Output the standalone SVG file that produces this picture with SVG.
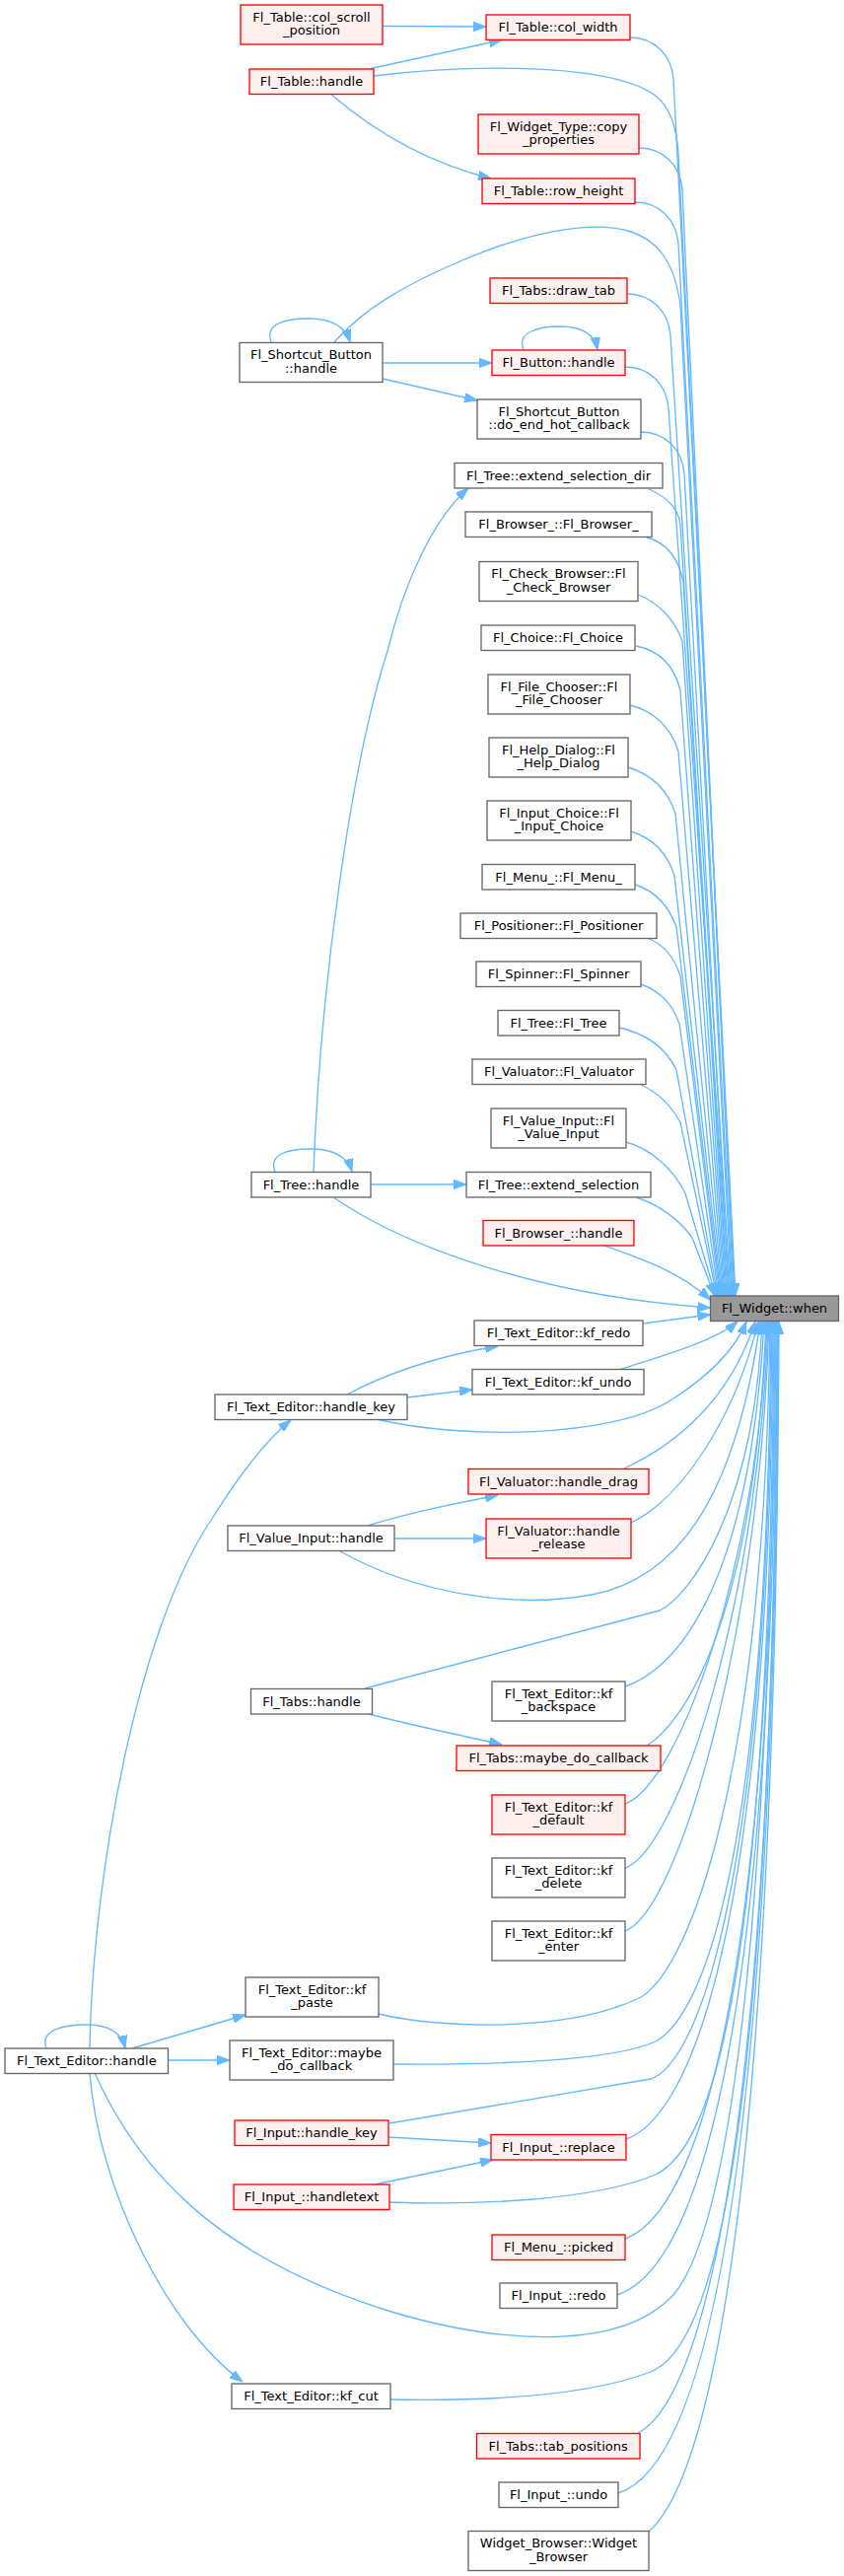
<svg xmlns="http://www.w3.org/2000/svg" width="856" height="2612" viewBox="0 0 856 2612">
<style>
text{font-family:"DejaVu Sans","Liberation Sans",sans-serif;font-size:13px;fill:#000;text-anchor:middle}
.r rect{fill:#fff0f0;stroke:#ff0000;stroke-width:1.33}
.g rect{fill:#ffffff;stroke:#666666;stroke-width:1.33}
.w rect{fill:#999999;stroke:#666666;stroke-width:1.33}
#edges path{fill:none;stroke:#63b8ff;stroke-width:1.33;marker-end:url(#a)}
</style>
<defs>
<marker id="a" viewBox="0 0 13 9.4" refX="13" refY="4.7" markerWidth="13" markerHeight="9.4" markerUnits="userSpaceOnUse" orient="auto">
<path d="M0,0 L13,4.7 L0,9.4 z" fill="#63b8ff" stroke="#63b8ff" stroke-width="1"/>
</marker>
</defs>
<rect x="0" y="0" width="856" height="2612" fill="#ffffff"/>
<g id="edges">
<path d="M388,26.5 L493,27"/>
<path d="M376,69.5 L509,40.5"/>
<path d="M335,95 C370,125 425,163 498,181"/>
<path d="M275,347 C268,328 290,323 313,323 C335,323 350,330 355,347"/>
<path d="M388,368 L499,368"/>
<path d="M388,384 L484,406"/>
<path d="M531,355 C524,337 545,331 568,331 C590,331 603,338 606,355"/>
<path d="M279,1188 C272,1170 292,1165 315,1165 C338,1165 352,1172 357,1188"/>
<path d="M376,1201 L473,1201"/>
<path d="M318,1188 C325,1000 355,780 393,660 C410,590 440,525 475,495"/>
<path d="M352,1414 C385,1396 440,1375 505,1365"/>
<path d="M413,1417 L479,1409"/>
<path d="M91,2077 C94,1900 140,1650 215,1540 C240,1500 270,1460 295,1440"/>
<path d="M373,1547 C410,1535 460,1525 505,1516"/>
<path d="M400,1560 L493,1560"/>
<path d="M374,1738 C420,1750 470,1760 509,1769"/>
<path d="M134,2077 L249,2043"/>
<path d="M170.5,2089 L233,2089"/>
<path d="M47,2077 C40,2058 65,2053 88,2053 C110,2053 123,2060 127,2077"/>
<path d="M91,2102 C100,2220 170,2360 246,2415"/>
<path d="M394,2167 L498,2173"/>
<path d="M380,2215 L500,2190"/>
<path d="M639,38 C664,38 681,56 683,80 L746,1314"/>
<path d="M379,77 C470,66 620,62 666,98 C678,108 686,125 688,155 L745,1314"/>
<path d="M648,150 C673,150 690,168 692,192 L744,1314"/>
<path d="M644,205 C669,205 686,223 688,247 L743,1314"/>
<path d="M339,347 C370,312 410,290 455,270 C530,236 600,222 640,235 C670,245 685,270 690,310 L742,1314"/>
<path d="M636,298 C661,298 678,316 680,340 L741,1314"/>
<path d="M634,372 C659,372 676,390 678,414 L740,1314"/>
<path d="M650,438 C675,438 692,456 694,480 L739,1314"/>
<path d="M658,496 C672,502 688,512 690,532 L738,1314"/>
<path d="M656,545 C675,550 688,565 693,590 L737,1314"/>
<path d="M647,603 C665,610 683,625 692,650 L736,1314"/>
<path d="M645,655 C670,660 684,675 690,700 L735,1314"/>
<path d="M639,715 C660,720 680,735 688,762 L734,1314"/>
<path d="M637,778 C660,785 677,800 685,825 L733,1314"/>
<path d="M640,843 C662,850 677,865 684,888 L732,1314"/>
<path d="M644,897 C663,903 678,918 686,940 L731,1314"/>
<path d="M656,951 C672,957 684,970 690,990 L730,1314"/>
<path d="M650,998 C668,1004 682,1018 689,1038 L729,1314"/>
<path d="M628,1042 C655,1048 675,1062 686,1085 L728,1314"/>
<path d="M650,1100 C668,1108 680,1120 690,1138 L727,1314"/>
<path d="M635,1158 C660,1165 683,1185 695,1210 L726,1314"/>
<path d="M645,1214 C670,1222 690,1238 702,1255 L725,1314"/>
<path d="M613,1263 C650,1276 690,1290 720.5,1318"/>
<path d="M338,1214 C420,1270 560,1315 720.5,1326"/>
<path d="M652,1342 L720.5,1333"/>
<path d="M628,1389 C670,1375 725,1360 748,1340"/>
<path d="M382,1439 C470,1460 620,1458 680,1420 C715,1398 745,1370 757,1340"/>
<path d="M633,1489 C685,1465 740,1420 766,1340"/>
<path d="M640,1544 C690,1520 745,1440 769,1340"/>
<path d="M345,1573 C420,1615 520,1632 600,1617 C680,1602 745,1530 771,1340"/>
<path d="M370,1712 L669,1633 C700,1618 765,1530 773,1340"/>
<path d="M634,1710 C680,1695 760,1620 775,1340"/>
<path d="M656,1770 C690,1750 765,1650 777,1340"/>
<path d="M634,1829 C689,1809 769,1585 778,1340"/>
<path d="M634,1894 C689,1874 770,1617 779,1340"/>
<path d="M634,1958 C689,1938 771,1650 780,1340"/>
<path d="M384,2042 C450,2058 580,2060 650,2025 C700,1995 775,1800 781,1340"/>
<path d="M399,2093 C500,2094 620,2090 665,2070 C710,2045 778,1900 782,1340"/>
<path d="M395,2153 L660,2108 C700,2095 778,1950 783,1340"/>
<path d="M635,2169 C690,2150 780,2000 784,1340"/>
<path d="M395,2233 C480,2236 600,2232 665,2205 C715,2180 780,2050 785,1340"/>
<path d="M96,2102 C140,2200 220,2290 400,2345 C520,2380 630,2380 680,2330 C720,2290 780,2100 786,1340"/>
<path d="M634,2270 C690,2250 782,2100 787,1340"/>
<path d="M626,2327 C690,2305 783,2150 788,1340"/>
<path d="M396,2433 C500,2435 600,2428 660,2405 C720,2380 783,2200 788.5,1340"/>
<path d="M647,2467 C700,2440 784,2250 789,1340"/>
<path d="M627,2528 C700,2505 785,2300 789.5,1340"/>
<path d="M658,2567 C700,2530 786,2350 790,1340"/>
</g>
<g id="n1" class="r"><rect x="244" y="5" width="144" height="40"/><text x="316" y="21.7">Fl_Table::col_scroll</text><text x="316" y="35">_position</text></g>
<g id="n2" class="r"><rect x="493" y="15" width="146" height="25.5"/><text x="566" y="32.2">Fl_Table::col_width</text></g>
<g id="n3" class="r"><rect x="253" y="70" width="126" height="25.5"/><text x="316" y="87.2">Fl_Table::handle</text></g>
<g id="n4" class="r"><rect x="485" y="116" width="163" height="40"/><text x="566.5" y="132.7">Fl_Widget_Type::copy</text><text x="566.5" y="146">_properties</text></g>
<g id="n5" class="r"><rect x="489" y="181" width="155" height="25.5"/><text x="566.5" y="198.2">Fl_Table::row_height</text></g>
<g id="n6" class="r"><rect x="497" y="282" width="139" height="25.5"/><text x="566.5" y="299.2">Fl_Tabs::draw_tab</text></g>
<g id="n7" class="g"><rect x="243" y="347.5" width="145" height="40"/><text x="315.5" y="364.2">Fl_Shortcut_Button</text><text x="315.5" y="377.5">::handle</text></g>
<g id="n8" class="r"><rect x="499" y="355" width="135" height="25.5"/><text x="566.5" y="372.2">Fl_Button::handle</text></g>
<g id="n9" class="g"><rect x="484" y="405" width="166" height="40"/><text x="567" y="421.7">Fl_Shortcut_Button</text><text x="567" y="435">::do_end_hot_callback</text></g>
<g id="n10" class="g"><rect x="461" y="469.5" width="211" height="25.5"/><text x="566.5" y="486.7">Fl_Tree::extend_selection_dir</text></g>
<g id="n11" class="g"><rect x="472" y="519" width="189" height="25.5"/><text x="566.5" y="536.2">Fl_Browser_::Fl_Browser_</text></g>
<g id="n12" class="g"><rect x="486" y="569.5" width="161" height="40"/><text x="566.5" y="586.2">Fl_Check_Browser::Fl</text><text x="566.5" y="599.5">_Check_Browser</text></g>
<g id="n13" class="g"><rect x="488" y="634" width="156" height="25.5"/><text x="566" y="651.2">Fl_Choice::Fl_Choice</text></g>
<g id="n14" class="g"><rect x="495" y="684" width="144" height="40"/><text x="567" y="700.7">Fl_File_Chooser::Fl</text><text x="567" y="714">_File_Chooser</text></g>
<g id="n15" class="g"><rect x="496" y="748" width="141" height="40"/><text x="566.5" y="764.7">Fl_Help_Dialog::Fl</text><text x="566.5" y="778">_Help_Dialog</text></g>
<g id="n16" class="g"><rect x="494" y="812" width="146" height="40"/><text x="567" y="828.7">Fl_Input_Choice::Fl</text><text x="567" y="842">_Input_Choice</text></g>
<g id="n17" class="g"><rect x="489" y="876.5" width="155" height="25.5"/><text x="566.5" y="893.7">Fl_Menu_::Fl_Menu_</text></g>
<g id="n18" class="g"><rect x="467" y="926" width="199" height="25.5"/><text x="566.5" y="943.2">Fl_Positioner::Fl_Positioner</text></g>
<g id="n19" class="g"><rect x="483" y="975" width="167" height="25.5"/><text x="566.5" y="992.2">Fl_Spinner::Fl_Spinner</text></g>
<g id="n20" class="g"><rect x="505" y="1024.5" width="123" height="25.5"/><text x="566.5" y="1041.7">Fl_Tree::Fl_Tree</text></g>
<g id="n21" class="g"><rect x="479" y="1074" width="176" height="25.5"/><text x="567" y="1091.2">Fl_Valuator::Fl_Valuator</text></g>
<g id="n22" class="g"><rect x="498" y="1124" width="137" height="40"/><text x="566.5" y="1140.7">Fl_Value_Input::Fl</text><text x="566.5" y="1154">_Value_Input</text></g>
<g id="n23" class="g"><rect x="255" y="1188.5" width="121" height="25.5"/><text x="315.5" y="1205.7">Fl_Tree::handle</text></g>
<g id="n24" class="g"><rect x="473" y="1188.5" width="187" height="25.5"/><text x="566.5" y="1205.7">Fl_Tree::extend_selection</text></g>
<g id="n25" class="r"><rect x="490" y="1237.5" width="153" height="25.5"/><text x="566.5" y="1254.7">Fl_Browser_::handle</text></g>
<g id="n26" class="w"><rect x="720.5" y="1314" width="130" height="25.5"/><text x="785.5" y="1331.2">Fl_Widget::when</text></g>
<g id="n27" class="g"><rect x="481" y="1339" width="171" height="25.5"/><text x="566.5" y="1356.2">Fl_Text_Editor::kf_redo</text></g>
<g id="n28" class="g"><rect x="479" y="1388.5" width="174" height="25.5"/><text x="566" y="1405.7">Fl_Text_Editor::kf_undo</text></g>
<g id="n29" class="g"><rect x="218" y="1414" width="195" height="25.5"/><text x="315.5" y="1431.2">Fl_Text_Editor::handle_key</text></g>
<g id="n30" class="r"><rect x="475" y="1489.5" width="183" height="25.5"/><text x="566.5" y="1506.7">Fl_Valuator::handle_drag</text></g>
<g id="n31" class="g"><rect x="231" y="1547" width="169" height="25.5"/><text x="315.5" y="1564.2">Fl_Value_Input::handle</text></g>
<g id="n32" class="r"><rect x="493" y="1540" width="147" height="40"/><text x="566.5" y="1556.7">Fl_Valuator::handle</text><text x="566.5" y="1570">_release</text></g>
<g id="n33" class="g"><rect x="254.5" y="1712.5" width="123" height="25.5"/><text x="316" y="1729.7">Fl_Tabs::handle</text></g>
<g id="n34" class="g"><rect x="499" y="1705" width="135" height="40"/><text x="566.5" y="1721.7">Fl_Text_Editor::kf</text><text x="566.5" y="1735">_backspace</text></g>
<g id="n35" class="r"><rect x="463" y="1770" width="207" height="25.5"/><text x="566.5" y="1787.2">Fl_Tabs::maybe_do_callback</text></g>
<g id="n36" class="r"><rect x="499" y="1820" width="135" height="40"/><text x="566.5" y="1836.7">Fl_Text_Editor::kf</text><text x="566.5" y="1850">_default</text></g>
<g id="n37" class="g"><rect x="499" y="1884" width="135" height="40"/><text x="566.5" y="1900.7">Fl_Text_Editor::kf</text><text x="566.5" y="1914">_delete</text></g>
<g id="n38" class="g"><rect x="499" y="1948" width="135" height="40"/><text x="566.5" y="1964.7">Fl_Text_Editor::kf</text><text x="566.5" y="1978">_enter</text></g>
<g id="n39" class="g"><rect x="249" y="2005" width="135" height="40"/><text x="316.5" y="2021.7">Fl_Text_Editor::kf</text><text x="316.5" y="2035">_paste</text></g>
<g id="n40" class="g"><rect x="5" y="2077" width="165.5" height="25.5"/><text x="87.8" y="2094.2">Fl_Text_Editor::handle</text></g>
<g id="n41" class="g"><rect x="233" y="2069" width="166" height="40"/><text x="316" y="2085.7">Fl_Text_Editor::maybe</text><text x="316" y="2099">_do_callback</text></g>
<g id="n42" class="r"><rect x="238" y="2150" width="156" height="25.5"/><text x="316" y="2167.2">Fl_Input::handle_key</text></g>
<g id="n43" class="r"><rect x="498" y="2164.5" width="137" height="25.5"/><text x="566.5" y="2181.7">Fl_Input_::replace</text></g>
<g id="n44" class="r"><rect x="237" y="2215" width="158" height="25.5"/><text x="316" y="2232.2">Fl_Input_::handletext</text></g>
<g id="n45" class="r"><rect x="499" y="2266" width="135" height="25.5"/><text x="566.5" y="2283.2">Fl_Menu_::picked</text></g>
<g id="n46" class="g"><rect x="507" y="2315" width="119" height="25.5"/><text x="566.5" y="2332.2">Fl_Input_::redo</text></g>
<g id="n47" class="g"><rect x="235" y="2417" width="161" height="25.5"/><text x="315.5" y="2434.2">Fl_Text_Editor::kf_cut</text></g>
<g id="n48" class="r"><rect x="483.5" y="2467.5" width="165.5" height="25.5"/><text x="566.2" y="2484.7">Fl_Tabs::tab_positions</text></g>
<g id="n49" class="g"><rect x="506" y="2517" width="121" height="25.5"/><text x="566.5" y="2534.2">Fl_Input_::undo</text></g>
<g id="n50" class="g"><rect x="475" y="2566.5" width="183" height="40"/><text x="566.5" y="2583.2">Widget_Browser::Widget</text><text x="566.5" y="2596.5">_Browser</text></g>
</svg>
